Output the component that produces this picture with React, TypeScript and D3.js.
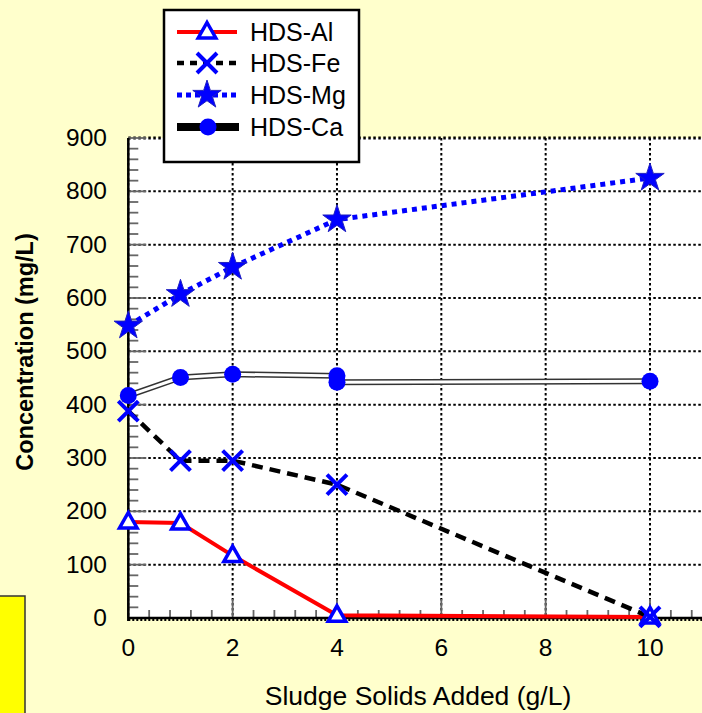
import * as d3 from 'd3';

// values
const xValues = [0, 1, 2, 4, 10];
const alValues = [180, 178, 117, 5, 2];
const feValues = [388, 295, 295, 250, 2];
const mgValues = [548, 607, 658, 747, 825];
const caX = [0, 1, 2, 4, 4, 10];
const caValues = [417, 451, 457, 454, 442, 444];

const xTicks = [0, 2, 4, 6, 8, 10];
const yTicks = [0, 100, 200, 300, 400, 500, 600, 700, 800, 900];
const legendNames = ['HDS-Al', 'HDS-Fe', 'HDS-Mg', 'HDS-Ca'];

const W = 702;
const H = 713;
const FONT = '"Liberation Sans", Arial, Helvetica, sans-serif';
const BLUE = '#0000ff';

const x = d3.scaleLinear().domain([0, 10]).range([128.3, 650]);
const y = d3.scaleLinear().domain([0, 900]).range([618, 138]);
const plotRight = 720;
const xEnd = x.invert(plotRight);

const line = d3.line<[number, number]>().x(d => x(d[0])).y(d => y(d[1]));
const starPath = d3.symbol(d3.symbolStar, 250)() as string;

function Triangle({ cx, cy }: { cx: number; cy: number }) {
  return (
    <path
      transform={`translate(${cx},${cy})`}
      d="M0,-9.5 L8.8,6 L-8.8,6 Z"
      fill="white"
      stroke={BLUE}
      strokeWidth={3.5}
    />
  );
}

function Cross({ cx, cy }: { cx: number; cy: number }) {
  return (
    <path
      transform={`translate(${cx},${cy})`}
      d="M-10,-10L10,10M-10,10L10,-10"
      stroke={BLUE}
      strokeWidth={4}
      fill="none"
    />
  );
}

function Star({ cx, cy }: { cx: number; cy: number }) {
  return (
    <path
      transform={`translate(${cx},${cy})`}
      d={starPath}
      fill={BLUE}
      stroke="#2020c0"
      strokeWidth={1}
    />
  );
}

function Dot({ cx, cy }: { cx: number; cy: number }) {
  return <circle cx={cx} cy={cy} r={8.5} fill={BLUE} />;
}

export default function App() {
  const al = xValues.map((v, i) => [v, alValues[i]] as [number, number]);
  const fe = xValues.map((v, i) => [v, feValues[i]] as [number, number]);
  const mg = xValues.map((v, i) => [v, mgValues[i]] as [number, number]);
  const ca = caX.map((v, i) => [v, caValues[i]] as [number, number]);

  const minorX = d3.range(0, xEnd, 0.4);
  const minorY = d3.range(0, 901, 20);
  const gridX = d3.range(0, xEnd, 2);

  // legend layout
  const lx = 164, ly = 10, lw = 195, lh = 152;
  const rowY = [32, 63, 95, 127];

  return (
    <svg
      width={W}
      height={H}
      style={{ position: 'absolute', left: 0, top: 0, fontFamily: FONT }}
    >
      <rect x={0} y={0} width={W} height={H} fill="#ffffcc" />
      <rect x={-5} y={596} width={30} height={130} fill="#ffff00" stroke="#333" strokeWidth={1.5} />

      {/* plot area */}
      <rect x={x(0)} y={y(900)} width={plotRight - x(0)} height={y(0) - y(900)} fill="white" />

      {/* dotted grid */}
      {yTicks.map(t => (
        <line key={'gy' + t} x1={x(0)} x2={plotRight} y1={y(t)} y2={y(t)}
          stroke="black" strokeWidth={t === 900 ? 3 : 2} strokeDasharray="2.5,2.5" />
      ))}
      {gridX.map(t => (
        <line key={'gx' + t} x1={x(t)} x2={x(t)} y1={y(900)} y2={y(0)}
          stroke="black" strokeWidth={2} strokeDasharray="2.5,2.5" />
      ))}

      {/* ticks */}
      {minorX.map(t => {
        const major = Math.abs(t / 2 - Math.round(t / 2)) < 1e-6;
        return (
          <line key={'tx' + t} x1={x(t)} x2={x(t)} y1={y(0)} y2={y(0) - (major ? 19 : 8)}
            stroke="#666" strokeWidth={1.8} />
        );
      })}
      {minorY.map(t => (
        <line key={'ty' + t} x1={x(0)} x2={x(0) + (t % 100 === 0 ? 18 : 10)} y1={y(t)} y2={y(t)}
          stroke="#666" strokeWidth={1.8} />
      ))}

      {/* axes */}
      <line x1={x(0)} x2={plotRight} y1={y(0)} y2={y(0)} stroke="black" strokeWidth={2.5} />
      <line x1={x(0)} x2={plotRight} y1={y(0) + 2} y2={y(0) + 2} stroke="black" strokeWidth={2} strokeDasharray="2,2" />
      <line x1={x(0)} x2={x(0)} y1={y(900)} y2={y(0) + 3} stroke="black" strokeWidth={2.5} />

      {/* series */}
      <path d={line(ca) as string} fill="none" stroke="#333" strokeWidth={6} />
      <path d={line(ca) as string} fill="none" stroke="white" strokeWidth={3} />
      <path d={line(al) as string} fill="none" stroke="#ff0000" strokeWidth={4} />
      <path d={line(fe) as string} fill="none" stroke="black" strokeWidth={4.5} strokeDasharray="11,7" />
      <path d={line(mg) as string} fill="none" stroke={BLUE} strokeWidth={5} strokeDasharray="5,5" />

      {ca.map((d, i) => <Dot key={'c' + i} cx={x(d[0])} cy={y(d[1])} />)}
      {al.map((d, i) => <Triangle key={'a' + i} cx={x(d[0])} cy={y(d[1])} />)}
      {fe.map((d, i) => <Cross key={'f' + i} cx={x(d[0])} cy={y(d[1])} />)}
      {mg.map((d, i) => <Star key={'m' + i} cx={x(d[0])} cy={y(d[1])} />)}

      {/* tick labels */}
      {yTicks.map(t => (
        <text key={'ly' + t} x={107} y={y(t) + 8} textAnchor="end" fontSize={24.5} fill="black">{t}</text>
      ))}
      {xTicks.map(t => (
        <text key={'lx' + t} x={x(t)} y={656} textAnchor="middle" fontSize={24.5} fill="black">{t}</text>
      ))}

      <text x={418} y={705} textAnchor="middle" fontSize={26.5} fill="black">Sludge Solids Added (g/L)</text>
      <text transform="translate(33,352) rotate(-90)" textAnchor="middle" fontSize={23.5}
        fontWeight="bold" fill="black">Concentration (mg/L)</text>

      {/* legend */}
      <rect x={lx} y={ly} width={lw} height={lh} fill="white" stroke="black" strokeWidth={2.5} />
      <line x1={177} x2={237} y1={rowY[0]} y2={rowY[0]} stroke="#ff0000" strokeWidth={4} />
      <Triangle cx={207} cy={rowY[0]} />
      <line x1={177} x2={237} y1={rowY[1]} y2={rowY[1]} stroke="black" strokeWidth={4.5} strokeDasharray="7,6" />
      <Cross cx={207} cy={rowY[1]} />
      <line x1={177} x2={237} y1={rowY[2]} y2={rowY[2]} stroke={BLUE} strokeWidth={5} strokeDasharray="5,4" />
      <Star cx={207} cy={rowY[2]} />
      <line x1={177} x2={239} y1={rowY[3]} y2={rowY[3]} stroke="black" strokeWidth={8} />
      <Dot cx={208} cy={rowY[3]} />
      {legendNames.map((n, i) => (
        <text key={n} x={250} y={rowY[i] + 9} fontSize={25} fill="black">{n}</text>
      ))}
    </svg>
  );
}
